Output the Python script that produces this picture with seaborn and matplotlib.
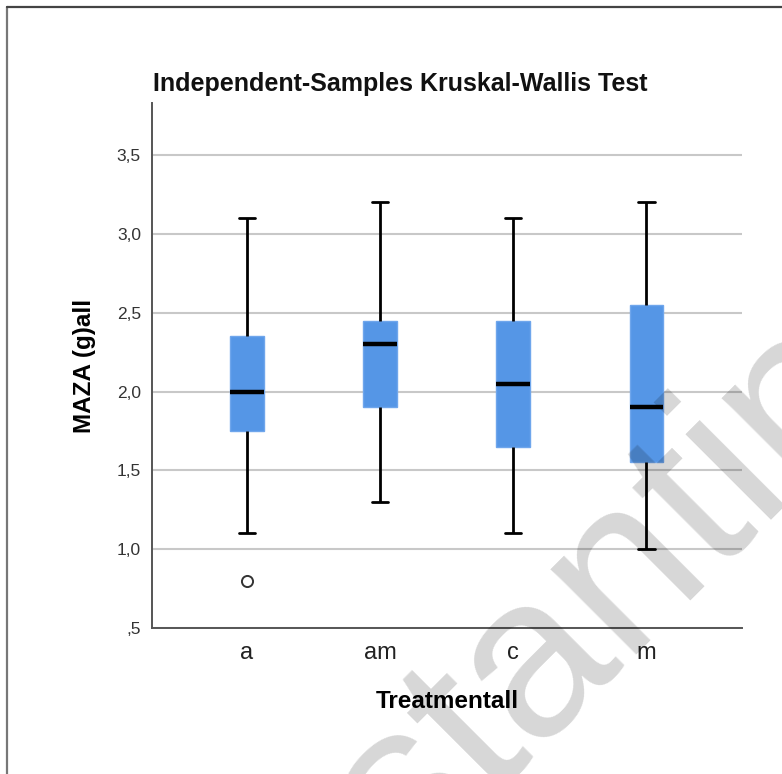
import matplotlib
matplotlib.use("Agg")
import matplotlib.pyplot as plt
from matplotlib.lines import Line2D
import seaborn as sns
import pandas as pd

# ---- data ----
groups = ["a", "am", "c", "m"]
whisker_low = [1.10, 1.30, 1.10, 1.00]
q1 = [1.75, 1.90, 1.65, 1.55]
median = [2.00, 2.30, 2.05, 1.90]
q3 = [2.35, 2.45, 2.45, 2.55]
whisker_high = [3.10, 3.20, 3.10, 3.20]
outlier_group = ["a"]
outlier_value = [0.80]

y_ticks = [0.5, 1.0, 1.5, 2.0, 2.5, 3.0, 3.5]
y_tick_labels = [",5", "1,0", "1,5", "2,0", "2,5", "3,0", "3,5"]

title = "Independent-Samples Kruskal-Wallis Test"
x_label = "Treatmentall"
y_label = "MAZA (g)all"
watermark = "stantin"

# five-number summary per group -> sample whose quartiles equal the summary
rows = []
for g, lo, a, m, b, hi in zip(groups, whisker_low, q1, median, q3, whisker_high):
    for v in (lo, a, m, b, hi):
        rows.append({"group": g, "value": v})
df = pd.DataFrame(rows)
df_out = pd.DataFrame({"group": outlier_group, "value": outlier_value})

sns.set_theme(style="white")
plt.rcParams["font.family"] = ["Liberation Sans", "DejaVu Sans"]

W, H = 782, 774
fig = plt.figure(figsize=(W / 100, H / 100), dpi=100)
fig.patch.set_facecolor("white")
ax = fig.add_axes([152 / W, 1 - 628 / H, (742 - 152) / W, (628 - 103) / H])

sns.boxplot(
    data=df, x="group", y="value", order=groups, ax=ax,
    whis=(0, 100), width=0.25, color="#5596E6", saturation=1,
    linecolor="black", linewidth=2, fill=True,
    boxprops=dict(edgecolor="#6fa6ec", linewidth=1),
    medianprops=dict(color="black", linewidth=3.2, solid_capstyle="butt"),
    whiskerprops=dict(color="black", linewidth=2),
    capprops=dict(color="black", linewidth=2),
    showfliers=False, zorder=3,
)
sns.stripplot(
    data=df_out, x="group", y="value", order=groups, ax=ax,
    jitter=False, marker="o", size=8, color="white",
    edgecolor="#333333", linewidth=1.4, zorder=4,
)

ax.set_xlim(-0.714, 3.72)
ax.set_ylim(0.5, 3.83)
ax.set_yticks(y_ticks)
ax.set_yticklabels(y_tick_labels, fontsize=12.5, color="#333333")
ax.set_xticks(range(len(groups)))
ax.set_xticklabels(groups, fontsize=17, color="#222222")
ax.tick_params(axis="both", length=0)
ax.tick_params(axis="y", pad=8)
ax.tick_params(axis="x", pad=10)

ax.yaxis.grid(True, color="#c8c8c8", linewidth=1.5, zorder=0)
ax.xaxis.grid(False)
ax.set_axisbelow(True)
for s in ("top", "right"):
    ax.spines[s].set_visible(False)
for s in ("left", "bottom"):
    ax.spines[s].set_color("#555555")
    ax.spines[s].set_linewidth(1.4)
    ax.spines[s].set_zorder(5)

ax.set_xlabel(x_label, fontsize=17.5, fontweight="bold", color="black", va="center")
ax.xaxis.set_label_coords(0.5, (628 - 702) / 525)
ax.set_ylabel(y_label, fontsize=17.5, fontweight="bold", color="black", va="center")
ax.yaxis.set_label_coords((85 - 152) / 590, 0.5)

fig.text(153 / W, 1 - 84 / H, title, fontsize=18, fontweight="bold",
         ha="left", va="center", color="#111111")

# outer frame (left and top edges)
fig.add_artist(Line2D([7 / W, 7 / W], [0, 1 - 7 / H], color="#777777", linewidth=1.6))
fig.add_artist(Line2D([7 / W, 1], [1 - 7 / H, 1 - 7 / H], color="#444444", linewidth=1.6))

# faint diagonal watermark
fig.text(605 / W, 1 - 596 / H, watermark, rotation=45, rotation_mode="anchor",
         ha="center", va="center", fontsize=165, color="black", alpha=0.16, zorder=10)

fig.savefig("out.png", dpi=100)
